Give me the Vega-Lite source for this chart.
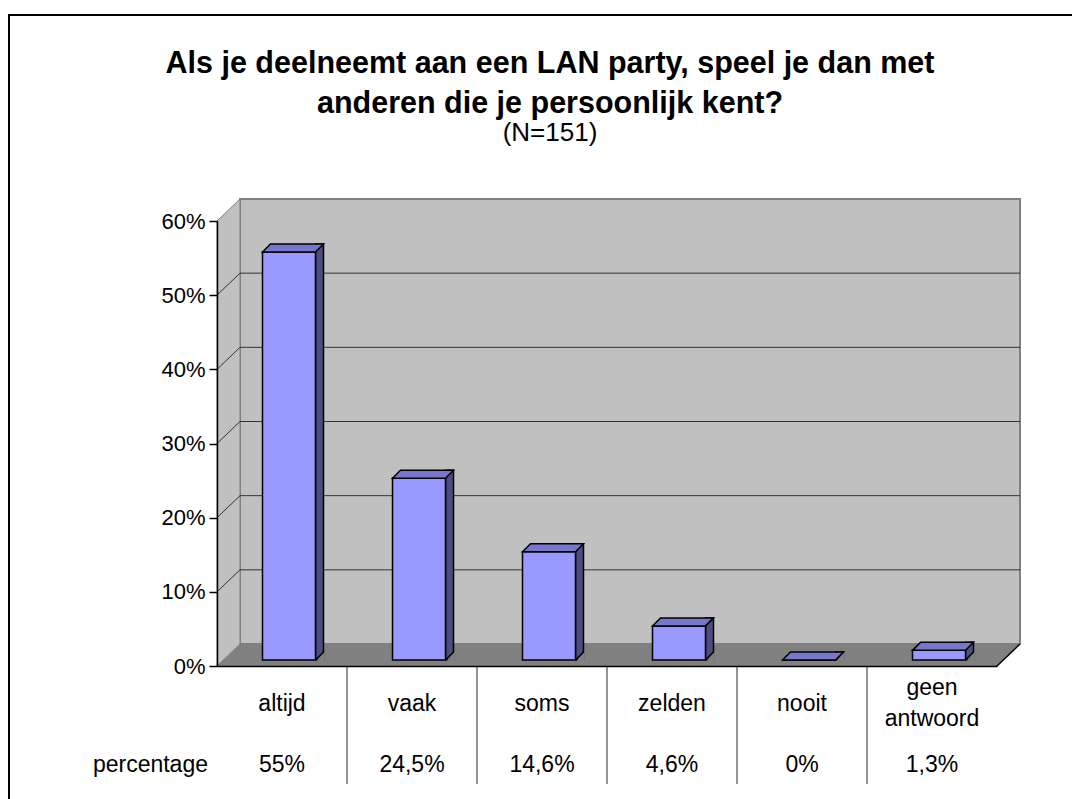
{
  "$schema": "https://vega.github.io/schema/vega-lite/v6.json",
  "width": 780,
  "height": 445,
  "autosize": {"type": "none"},
  "padding": {"left": 217, "top": 221, "right": 75, "bottom": 133},
  "background": "white",
  "config": {
    "view": {"stroke": null},
    "font": "Liberation Sans",
    "locale": {"number": {"decimal": ",", "thousands": ".", "grouping": [3], "currency": ["€", ""]}}
  },
  "title": {
    "text": ["Als je deelneemt aan een LAN party, speel je dan met", "anderen die je persoonlijk kent?"],
    "subtitle": "(N=151)",
    "font": "Liberation Sans",
    "fontSize": 30.5,
    "fontWeight": "bold",
    "lineHeight": 40,
    "color": "black",
    "subtitleFont": "Liberation Sans",
    "subtitleFontSize": 26,
    "subtitleColor": "black",
    "subtitlePadding": 1,
    "anchor": "middle",
    "frame": "group",
    "dx": -57,
    "offset": -132
  },
  "datasets": {
    "answers": [
      {"antwoord": "altijd", "pct": 0.55},
      {"antwoord": "vaak", "pct": 0.245},
      {"antwoord": "soms", "pct": 0.146},
      {"antwoord": "zelden", "pct": 0.046},
      {"antwoord": "nooit", "pct": 0},
      {"antwoord": "geen antwoord", "pct": 0.013}
    ],
    "grid": [{"v": 0.1}, {"v": 0.2}, {"v": 0.3}, {"v": 0.4}, {"v": 0.5}]
  },
  "layer": [
    {
      "data": {"values": [{}]},
      "mark": {"type": "rect", "fillOpacity": 0, "stroke": "black", "strokeWidth": 2},
      "encoding": {
        "x": {"value": -208},
        "x2": {"value": 880},
        "y": {"value": -206},
        "y2": {"value": 600}
      }
    },
    {
      "data": {"values": [{}]},
      "mark": {"type": "rect", "fill": "#c0c0c0", "stroke": "#808080", "strokeWidth": 2, "xOffset": 23, "x2Offset": 23, "yOffset": -22, "y2Offset": -22},
      "encoding": {
        "x": {"value": 0},
        "x2": {"value": "width"},
        "y": {"datum": 0.6, "type": "quantitative"},
        "y2": {"datum": 0}
      }
    },
    {
      "data": {"values": [{}]},
      "mark": {"type": "point", "shape": "M0,0 L0,-445 L23,-467 L23,-22 Z", "size": 4, "filled": true, "fill": "#c0c0c0", "stroke": "#808080", "strokeWidth": 1, "opacity": 1},
      "encoding": {
        "x": {"value": 0},
        "y": {"datum": 0, "type": "quantitative"}
      }
    },
    {
      "data": {"name": "grid"},
      "mark": {"type": "rule", "color": "#333333", "strokeWidth": 1, "xOffset": 23, "x2Offset": 23, "yOffset": -22},
      "encoding": {
        "x": {"value": 0},
        "x2": {"value": "width"},
        "y": {"field": "v", "type": "quantitative"}
      }
    },
    {
      "data": {"name": "grid"},
      "mark": {"type": "rule", "color": "#333333", "strokeWidth": 1, "y2Offset": -22},
      "encoding": {
        "x": {"value": 0},
        "x2": {"value": 23},
        "y": {"field": "v", "type": "quantitative"},
        "y2": {"field": "v"}
      }
    },
    {
      "data": {"values": [{}]},
      "mark": {"type": "point", "shape": "M0,0 L23,-22 L803,-22 L780,0 Z", "size": 4, "filled": true, "fill": "#808080", "strokeWidth": 0, "opacity": 1},
      "encoding": {
        "x": {"value": 0},
        "y": {"datum": 0, "type": "quantitative"}
      }
    },
    {
      "data": {"values": [{}]},
      "mark": {"type": "rule", "color": "black", "strokeWidth": 1.5, "x2Offset": 23, "y2Offset": -22},
      "encoding": {
        "x": {"value": "width"},
        "x2": {"value": "width"},
        "y": {"datum": 0, "type": "quantitative"},
        "y2": {"datum": 0}
      }
    },
    {
      "data": {"name": "answers"},
      "mark": {"type": "bar", "width": 8, "xOffset": 37.5, "yOffset": -14, "y2Offset": -6, "fill": "#4d4d80", "stroke": "black", "strokeWidth": 1.5},
      "encoding": {
        "x": {"field": "antwoord", "type": "nominal", "sort": ["altijd", "vaak", "soms", "zelden", "nooit", "geen antwoord"]},
        "y": {"field": "pct", "type": "quantitative"},
        "y2": {"datum": 0}
      }
    },
    {
      "data": {"name": "answers"},
      "mark": {"type": "point", "shape": "M0.8,1.2 L9.2,1.2 L9.2,-8.6 Z", "size": 4, "filled": true, "fill": "#808080", "strokeWidth": 0, "opacity": 1, "xOffset": 33.5, "yOffset": -6},
      "encoding": {
        "x": {"field": "antwoord", "type": "nominal", "sort": ["altijd", "vaak", "soms", "zelden", "nooit", "geen antwoord"]},
        "y": {"datum": 0, "type": "quantitative"}
      }
    },
    {
      "data": {"name": "answers"},
      "mark": {"type": "point", "shape": "M0,0 L8,-8", "size": 4, "filled": false, "fill": "transparent", "stroke": "black", "strokeWidth": 1.5, "opacity": 1, "xOffset": 33.5, "yOffset": -6},
      "encoding": {
        "x": {"field": "antwoord", "type": "nominal", "sort": ["altijd", "vaak", "soms", "zelden", "nooit", "geen antwoord"]},
        "y": {"datum": 0, "type": "quantitative"}
      }
    },
    {
      "data": {"name": "answers"},
      "mark": {"type": "bar", "width": 53, "xOffset": 7, "yOffset": -6, "y2Offset": -6, "fill": "#9999ff", "stroke": "black", "strokeWidth": 1.5},
      "encoding": {
        "x": {
          "field": "antwoord",
          "type": "nominal",
          "sort": ["altijd", "vaak", "soms", "zelden", "nooit", "geen antwoord"],
          "scale": {"domain": ["altijd", "vaak", "soms", "zelden", "nooit", "geen antwoord"], "paddingInner": 0, "paddingOuter": 0},
          "axis": {
            "title": null,
            "orient": "bottom",
            "zindex": 1,
            "domainColor": "black",
            "domainWidth": 1.5,
            "ticks": false,
            "labelAngle": 0,
            "labelAlign": "center",
            "labelPadding": 37,
            "labelBaseline": {"condition": {"test": "datum.value === 'geen antwoord'", "value": "line-bottom"}, "value": "middle"},
            "labelFont": "Liberation Sans",
            "labelFontSize": 23,
            "labelColor": "black",
            "labelLineHeight": 31,
            "labelExpr": "datum.label == 'geen antwoord' ? ['geen', 'antwoord'] : datum.label"
          }
        },
        "y": {
          "field": "pct",
          "type": "quantitative",
          "scale": {"domain": [0, 0.6], "nice": false},
          "axis": {
            "title": null,
            "zindex": 1,
            "values": [0, 0.1, 0.2, 0.3, 0.4, 0.5, 0.6],
            "format": ".0%",
            "grid": false,
            "domainColor": "black",
            "domainWidth": 1.5,
            "tickColor": "black",
            "tickSize": 8,
            "tickWidth": 1.5,
            "labelPadding": 4,
            "labelFont": "Liberation Sans",
            "labelFontSize": 22,
            "labelColor": "black"
          }
        },
        "y2": {"datum": 0}
      }
    },
    {
      "data": {"name": "answers"},
      "mark": {"type": "point", "shape": "M0,0 L53,0 L61,-8 L8,-8 Z", "size": 4, "filled": true, "fill": "#7777cc", "stroke": "black", "strokeWidth": 1.5, "opacity": 1, "xOffset": -19.5, "yOffset": -6},
      "encoding": {
        "x": {"field": "antwoord", "type": "nominal", "sort": ["altijd", "vaak", "soms", "zelden", "nooit", "geen antwoord"]},
        "y": {"field": "pct", "type": "quantitative"}
      }
    },
    {
      "data": {"name": "answers"},
      "transform": [{"filter": "datum.antwoord != 'altijd'"}],
      "mark": {"type": "rule", "color": "#707070", "strokeWidth": 1.5, "y2Offset": 118},
      "encoding": {
        "x": {"field": "antwoord", "type": "nominal", "bandPosition": 0, "sort": ["altijd", "vaak", "soms", "zelden", "nooit", "geen antwoord"]},
        "y": {"datum": 0, "type": "quantitative"},
        "y2": {"datum": 0}
      }
    },
    {
      "data": {"name": "answers"},
      "mark": {"type": "text", "dy": 99, "baseline": "middle", "align": "center", "font": "Liberation Sans", "fontSize": 23, "color": "black"},
      "encoding": {
        "x": {"field": "antwoord", "type": "nominal", "sort": ["altijd", "vaak", "soms", "zelden", "nooit", "geen antwoord"]},
        "y": {"datum": 0, "type": "quantitative"},
        "text": {"field": "pct", "type": "quantitative", "format": ".1~%"}
      }
    },
    {
      "data": {"values": [{"rij": "percentage"}]},
      "mark": {"type": "text", "dy": 99, "dx": -9, "baseline": "middle", "align": "right", "font": "Liberation Sans", "fontSize": 23, "color": "black"},
      "encoding": {
        "x": {"datum": "altijd", "type": "nominal", "bandPosition": 0},
        "y": {"datum": 0, "type": "quantitative"},
        "text": {"field": "rij", "type": "nominal"}
      }
    }
  ]
}
